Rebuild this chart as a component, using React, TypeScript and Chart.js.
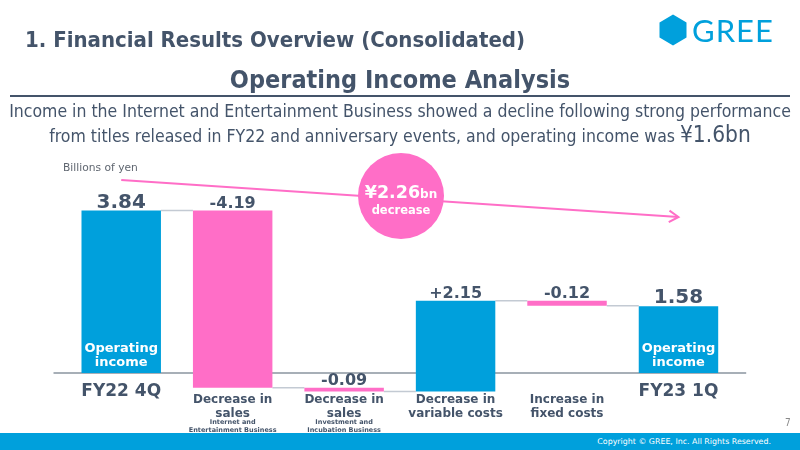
import { useEffect, useRef } from 'react';
import { Chart, registerables } from 'chart.js';

Chart.register(...registerables);

// Waterfall steps: FY22 4Q operating income → FY23 1Q operating income (billions of yen)
const categoryLines: string[][] = [
  ['FY22 4Q'],
  ['Decrease in', 'sales'],
  ['Decrease in', 'sales'],
  ['Decrease in', 'variable costs'],
  ['Increase in', 'fixed costs'],
  ['FY23 1Q'],
];
const categoryNotes: string[][] = [
  [],
  ['Internet and', 'Entertainment Business'],
  ['Investment and', 'Incubation Business'],
  [],
  [],
  [],
];
const stepKinds = ['total', 'delta', 'delta', 'delta', 'delta', 'total'];
const stepValues = [3.84, -4.19, -0.09, 2.15, -0.12, 1.58];
const totalChange = '¥2.26';

const BLUE = '#00A0DC';
const PINK = '#FF6EC7';
const INK = '#44546A';
const LINK = '#C3CAD3';
const AXIS = '#8A949F';
const LABEL_FONT = '"DejaVu Sans", Verdana, sans-serif';

// floating [start, end] ranges built from the step values
const ranges: [number, number][] = [];
{
  let level = 0;
  stepValues.forEach((v, i) => {
    if (stepKinds[i] === 'total') {
      ranges.push([0, v]);
      level = v;
    } else {
      ranges.push([level, level + v]);
      level += v;
    }
  });
}
const barColors = stepValues.map((v, i) => (stepKinds[i] === 'total' || v > 0 ? BLUE : PINK));
const valueLabels = stepValues.map((v, i) =>
  stepKinds[i] === 'total' ? v.toFixed(2) : (v > 0 ? '+' : '') + v.toFixed(2)
);

const waterfallDecor = {
  id: 'waterfallDecor',
  beforeDatasetsDraw(chart: any) {
    const { ctx, scales } = chart;
    const y0 = scales.y.getPixelForValue(0);
    const meta = chart.getDatasetMeta(0);
    ctx.save();
    // zero line
    ctx.strokeStyle = AXIS;
    ctx.lineWidth = 1.5;
    ctx.beginPath();
    ctx.moveTo(chart.chartArea.left - 12, y0);
    ctx.lineTo(chart.chartArea.right + 12, y0);
    ctx.stroke();
    // connectors between neighbouring bars
    ctx.strokeStyle = LINK;
    ctx.lineWidth = 1.5;
    for (let i = 0; i < ranges.length - 1; i++) {
      const a = meta.data[i];
      const b = meta.data[i + 1];
      const yy = scales.y.getPixelForValue(ranges[i][1]);
      ctx.beginPath();
      ctx.moveTo(a.x + a.width / 2, yy);
      ctx.lineTo(b.x - b.width / 2, yy);
      ctx.stroke();
    }
    ctx.restore();
  },
  afterDatasetsDraw(chart: any) {
    const { ctx, scales } = chart;
    const y0 = scales.y.getPixelForValue(0);
    const meta = chart.getDatasetMeta(0);
    ctx.save();
    ctx.textAlign = 'center';
    ctx.textBaseline = 'alphabetic';
    meta.data.forEach((bar: any, i: number) => {
      const top = scales.y.getPixelForValue(Math.max(ranges[i][0], ranges[i][1]));
      const isTotal = stepKinds[i] === 'total';
      // value above the bar
      ctx.fillStyle = INK;
      ctx.font = `bold ${isTotal ? 20 : 16}px ${LABEL_FONT}`;
      ctx.fillText(valueLabels[i], bar.x, top - 3);
      // category label
      if (isTotal) {
        ctx.font = `bold 17px ${LABEL_FONT}`;
        ctx.fillText(categoryLines[i][0], bar.x, y0 + 23);
        ctx.fillStyle = '#FFFFFF';
        ctx.font = `bold 13px ${LABEL_FONT}`;
        ctx.fillText('Operating', bar.x, y0 - 21);
        ctx.fillText('income', bar.x, y0 - 7);
      } else {
        ctx.font = `bold 12px ${LABEL_FONT}`;
        categoryLines[i].forEach((t, k) => ctx.fillText(t, bar.x, y0 + 30 + k * 14));
        ctx.font = `bold 6.5px ${LABEL_FONT}`;
        categoryNotes[i].forEach((t, k) => ctx.fillText(t, bar.x, y0 + 51 + k * 7.5));
      }
    });

    // overall change arrow from first total to last total
    const x1 = meta.data[0].x;
    const x2 = meta.data[meta.data.length - 1].x;
    const ya = 180;
    const yb = 217;
    ctx.strokeStyle = PINK;
    ctx.lineWidth = 2;
    ctx.beginPath();
    ctx.moveTo(x1, ya);
    ctx.lineTo(x2, yb);
    ctx.stroke();
    const ang = Math.atan2(yb - ya, x2 - x1);
    ctx.beginPath();
    ctx.moveTo(x2 - 11 * Math.cos(ang - 0.55), yb - 11 * Math.sin(ang - 0.55));
    ctx.lineTo(x2, yb);
    ctx.lineTo(x2 - 11 * Math.cos(ang + 0.55), yb - 11 * Math.sin(ang + 0.55));
    ctx.stroke();

    // change bubble
    const cx = 401;
    const cy = 196;
    ctx.fillStyle = PINK;
    ctx.beginPath();
    ctx.arc(cx, cy, 43, 0, Math.PI * 2);
    ctx.fill();
    ctx.fillStyle = '#FFFFFF';
    ctx.font = `bold 17.5px ${LABEL_FONT}`;
    const w1 = ctx.measureText(totalChange).width;
    ctx.font = `bold 12px ${LABEL_FONT}`;
    const w2 = ctx.measureText('bn').width;
    const sx = cx - (w1 + w2) / 2;
    ctx.textAlign = 'left';
    ctx.font = `bold 17.5px ${LABEL_FONT}`;
    ctx.fillText(totalChange, sx, cy + 2);
    ctx.font = `bold 12px ${LABEL_FONT}`;
    ctx.fillText('bn', sx + w1, cy + 2);
    ctx.textAlign = 'center';
    ctx.font = `bold 11.5px ${LABEL_FONT}`;
    ctx.fillText('decrease', cx, cy + 18);

    // unit note
    ctx.fillStyle = '#5F6670';
    ctx.textAlign = 'left';
    ctx.textBaseline = 'middle';
    ctx.font = `10.7px ${LABEL_FONT}`;
    ctx.fillText('Billions of yen', 63, 168);
    ctx.restore();
  },
};

function WaterfallChart() {
  const canvasRef = useRef<HTMLCanvasElement>(null);
  useEffect(() => {
    const chart = new Chart(canvasRef.current!, {
      type: 'bar',
      data: {
        labels: categoryLines.map((l) => l.join(' ')),
        datasets: [
          {
            data: ranges as any,
            backgroundColor: barColors,
            borderWidth: 0,
            barPercentage: 0.713,
            categoryPercentage: 1,
          },
        ],
      },
      options: {
        responsive: false,
        animation: false,
        layout: { padding: { left: 65.5, right: 65.8, top: 182.65, bottom: 34.7 } },
        scales: {
          x: { display: false },
          y: { display: false, min: -1, max: 4.5 },
        },
        plugins: { legend: { display: false }, tooltip: { enabled: false } },
      },
      plugins: [waterfallDecor],
    });
    return () => chart.destroy();
  }, []);
  return <canvas ref={canvasRef} width={800} height={450} style={{ position: 'absolute', left: 0, top: 0 }} />;
}

const HEAD_FONT = '"DejaVu Sans Condensed", "DejaVu Sans", sans-serif';

export default function App() {
  return (
    <div style={{ position: 'absolute', left: 0, top: 0, width: 800, height: 450, background: '#fff', overflow: 'hidden' }}>
      <WaterfallChart />
      <div style={{ position: 'absolute', left: 25, top: 26, fontFamily: HEAD_FONT, fontWeight: 'bold', fontSize: 22, color: INK, whiteSpace: 'nowrap', lineHeight: '28px' }}>
        1. Financial Results Overview (Consolidated)
      </div>
      <svg style={{ position: 'absolute', left: 658, top: 12 }} width={125} height={36} viewBox="0 0 125 36">
        <polygon points="15,2.5 28.5,10.5 28.5,25.5 15,33.5 1.5,25.5 1.5,10.5" fill={BLUE} />
        <text x={34} y={30} fill={BLUE} fontFamily="Lato, 'Open Sans', sans-serif" fontSize={31} letterSpacing={1}>GREE</text>
      </svg>
      <div style={{ position: 'absolute', left: 0, width: 800, top: 64, textAlign: 'center', fontFamily: HEAD_FONT, fontWeight: 'bold', fontSize: 25, color: INK, lineHeight: '32px' }}>
        Operating Income Analysis
      </div>
      <div style={{ position: 'absolute', left: 10, width: 780, top: 95, height: 0, borderTop: `2px solid ${INK}` }} />
      <div style={{ position: 'absolute', left: 0, width: 800, top: 100, textAlign: 'center', fontFamily: HEAD_FONT, fontSize: 17.5, color: INK, lineHeight: '23px', whiteSpace: 'nowrap' }}>
        Income in the Internet and Entertainment Business showed a decline following strong performance
        <br />
        from titles released in FY22 and anniversary events, and operating income was <span style={{ fontSize: 22.5 }}>¥1.6bn</span>
      </div>
      <div style={{ position: 'absolute', left: 785, top: 417, fontFamily: HEAD_FONT, fontSize: 10, color: '#888' }}>7</div>
      <div style={{ position: 'absolute', left: 0, top: 433, width: 800, height: 17, background: BLUE }}>
        <div style={{ position: 'absolute', right: 29, top: 3.5, fontFamily: LABEL_FONT, fontSize: 7.9, color: '#fff', whiteSpace: 'nowrap' }}>
          Copyright © GREE, Inc. All Rights Reserved.
        </div>
      </div>
    </div>
  );
}
